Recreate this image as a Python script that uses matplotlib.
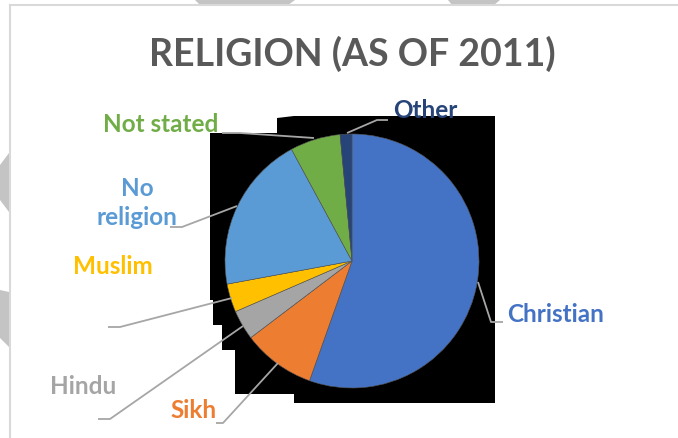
import matplotlib
matplotlib.use("Agg")
import matplotlib.pyplot as plt
from matplotlib.patches import Polygon

# ---- data ----
categories = ["Christian", "Sikh", "Hindu", "Muslim", "No religion", "Not stated", "Other"]
values = [55.4, 9.25, 3.8, 3.6, 20.0, 6.4, 1.5]
colors = ["#4472C4", "#ED7D31", "#A5A5A5", "#FFC000", "#5B9BD5", "#70AD47", "#264478"]
label_texts = ["Christian", "Sikh", "Hindu", "Muslim", "No\nreligion", "Not stated", "Other"]
title = "RELIGION (AS OF 2011)"

W, H = 678, 438
fig = plt.figure(figsize=(W / 100, H / 100), dpi=100)
ax = fig.add_axes([0, 0, 1, 1])

def P(x, y):
    return (x, H - y)

FONT = "Lato"

# background slide artefacts
gray = "#C4C4C4"
for poly in [
    [(195, 0), (295, 0), (288, 5), (200, 5)],
    [(448, 0), (500, 0), (494, 5), (452, 5)],
    [(0, 165), (9, 153), (9, 212), (0, 200)],
    [(0, 290), (9, 292), (9, 347), (0, 338)],
]:
    ax.add_patch(Polygon([P(*p) for p in poly], closed=True, facecolor=gray, edgecolor="none", zorder=0))

# chart border lines
ax.plot([P(10, 5)[0], P(678, 5)[0]], [P(10, 5)[1], P(678, 5)[1]], color="#D9D9D9", lw=1.5, zorder=1)
ax.plot([P(10, 5)[0], P(10, 438)[0]], [P(10, 5)[1], P(10, 438)[1]], color="#D9D9D9", lw=1.5, zorder=1)

# black artefact behind the pie
black_pts = [(210, 133), (277, 133), (277, 118), (294, 116), (495, 116), (495, 403),
             (294, 403), (294, 394), (235, 394), (235, 350), (222, 350), (222, 325),
             (213, 325), (213, 300), (210, 300)]
ax.add_patch(Polygon([P(*p) for p in black_pts], closed=True, facecolor="black", edgecolor="none", zorder=1))

# pie
cx, cy, r = 352, 261, 127
wedges, _ = ax.pie(values, colors=colors, startangle=90, counterclock=False,
                   center=P(cx, cy), radius=r, frame=True,
                   wedgeprops=dict(linewidth=0.4, edgecolor="#555555"))
for w in wedges:
    w.set_zorder(2)

# leader lines
lead = "#A6A6A6"
leaders = {
    "Other": [(347, 133), (377, 120), (388, 120)],
    "Not stated": [(314, 138), (240, 133), (222, 133)],
    "No religion": [(237, 206), (182, 227), (170, 227)],
    "Muslim": [(232, 298), (120, 327), (108, 327)],
    "Hindu": [(243, 326), (110, 419), (98, 419)],
    "Sikh": [(278, 363), (223, 423), (216, 423)],
    "Christian": [(478, 282), (491, 322), (503, 322)],
}
for k, pts in leaders.items():
    xs = [P(*p)[0] for p in pts]
    ys = [P(*p)[1] for p in pts]
    ax.plot(xs, ys, color=lead, lw=1.3, zorder=3, solid_capstyle="butt")

# labels
label_pos = {
    "Christian": (556, 315),
    "Sikh": (194, 411),
    "Hindu": (83, 387),
    "Muslim": (113, 266),
    "No religion": (137, 203),
    "Not stated": (161, 125),
    "Other": (425, 111),
}
for cat, txt, col in zip(categories, label_texts, colors):
    x, y = label_pos[cat]
    ax.text(*P(x, y), txt, color=col, fontsize=17.5, fontweight="bold", family=FONT,
            ha="center", va="center", linespacing=1.35, zorder=4)

ax.text(*P(352, 54), title, color="#595959", fontsize=27, fontweight="bold", family=FONT,
        ha="center", va="center", zorder=4)

ax.set_xlim(0, W)
ax.set_ylim(0, H)
ax.set_aspect("equal")
ax.axis("off")
fig.savefig("out.png", dpi=100, facecolor="white")
